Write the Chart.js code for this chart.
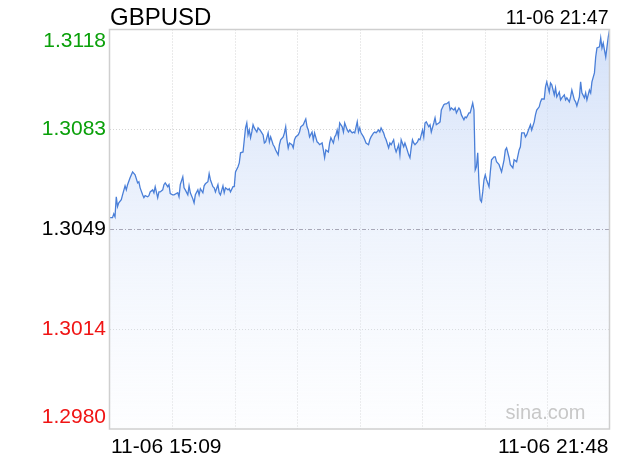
<!DOCTYPE html>
<html>
<head>
<meta charset="utf-8">
<script src="https://cdn.jsdelivr.net/npm/chart.js@4.4.1/dist/chart.umd.min.js"></script>
<style>
  html, body { margin: 0; padding: 0; background: #fff; }
  canvas { display: block; }
</style>
</head>
<body>
<canvas id="fx" width="620" height="460"></canvas>
<script>
var symbol = 'GBPUSD';
var lastTime = '11-06 21:47';
var startLabel = '11-06 15:09';
var endLabel = '11-06 21:48';
var prevClose = 1.3049;

// y ticks
var tickValues = [1.2980, 1.30145, 1.3049, 1.30835, 1.3118];
var tickLabels = ['1.2980', '1.3014', '1.3049', '1.3083', '1.3118'];

// minutes after 15:09
var minutes = [
  0, 2, 3, 4, 5, 6, 7, 9, 10, 12,
  13, 14, 16, 18, 20, 22, 23, 24, 26, 27,
  28, 30, 31, 32, 34, 35, 36, 38, 39, 40,
  42, 43, 44, 46, 47, 48, 50, 51, 54, 55,
  56, 58, 59, 60, 62, 63, 64, 66, 67, 68,
  70, 71, 72, 74, 75, 76, 78, 79, 80, 82,
  83, 84, 86, 87, 88, 90, 91, 92, 94, 95,
  96, 98, 99, 100, 102, 103, 104, 106, 107, 108,
  109, 110, 111, 112, 113, 114, 115, 117, 118, 120,
  122, 123, 124, 126, 127, 128, 130, 131, 132, 134,
  135, 136, 138, 139, 140, 141, 142, 143, 145, 146,
  147, 148, 150, 151, 152, 154, 155, 156, 157, 158,
  159, 161, 162, 163, 165, 166, 167, 169, 170, 171,
  172, 174, 175, 176, 178, 179, 180, 181, 182, 183,
  185, 186, 187, 189, 190, 191, 193, 194, 195, 197,
  198, 199, 200, 202, 203, 204, 206, 207, 208, 210,
  211, 212, 214, 215, 216, 218, 219, 220, 222, 223,
  224, 226, 227, 228, 230, 231, 232, 234, 235, 236,
  238, 239, 240, 241, 242, 243, 245, 246, 247, 249,
  250, 251, 252, 254, 255, 256, 258, 259, 260, 262,
  263, 264, 266, 267, 268, 270, 271, 272, 274, 275,
  276, 278, 279, 280, 282, 283, 284, 286, 287, 288,
  289, 290, 291, 292, 293, 294, 295, 296, 297, 298,
  299, 300, 302, 303, 304, 306, 307, 308, 310, 312,
  314, 315, 316, 318, 319, 321, 322, 324, 326, 327,
  328, 330, 331, 332, 334, 335, 336, 338, 339, 340,
  342, 343, 344, 346, 347, 348, 350, 351, 352, 354,
  355, 356, 358, 359, 360, 362, 363, 364, 366, 367,
  368, 370, 371, 372, 374, 375, 376, 378, 379, 380,
  382, 383, 384, 386, 387, 388, 390, 391, 392, 393,
  394, 395, 396, 397, 398
];

var prices = [
  1.30530, 1.30530, 1.30543, 1.30533, 1.30602, 1.30568, 1.30581, 1.30592, 1.30609, 1.30640,
  1.30626, 1.30644, 1.30668, 1.30688, 1.30678, 1.30650, 1.30654, 1.30633, 1.30609, 1.30599,
  1.30606, 1.30602, 1.30606, 1.30619, 1.30626, 1.30616, 1.30637, 1.30599, 1.30619, 1.30619,
  1.30626, 1.30644, 1.30650, 1.30637, 1.30644, 1.30613, 1.30609, 1.30609, 1.30616, 1.30602,
  1.30644, 1.30671, 1.30633, 1.30626, 1.30609, 1.30640, 1.30616, 1.30595, 1.30581, 1.30609,
  1.30626, 1.30609, 1.30630, 1.30616, 1.30640, 1.30647, 1.30654, 1.30682, 1.30661, 1.30637,
  1.30633, 1.30619, 1.30644, 1.30616, 1.30609, 1.30640, 1.30616, 1.30633, 1.30626, 1.30630,
  1.30619, 1.30637, 1.30637, 1.30688, 1.30706, 1.30719, 1.30754, 1.30757, 1.30799, 1.30840,
  1.30857, 1.30816, 1.30833, 1.30806, 1.30826, 1.30851, 1.30840, 1.30826, 1.30840, 1.30830,
  1.30816, 1.30788, 1.30792, 1.30823, 1.30792, 1.30809, 1.30782, 1.30775, 1.30764, 1.30747,
  1.30782, 1.30799, 1.30809, 1.30823, 1.30844, 1.30799, 1.30771, 1.30788, 1.30782, 1.30771,
  1.30799, 1.30809, 1.30816, 1.30826, 1.30844, 1.30851, 1.30861, 1.30871, 1.30844, 1.30833,
  1.30809, 1.30826, 1.30799, 1.30823, 1.30792, 1.30788, 1.30782, 1.30788, 1.30764, 1.30737,
  1.30764, 1.30757, 1.30788, 1.30806, 1.30788, 1.30809, 1.30816, 1.30833, 1.30809, 1.30857,
  1.30844, 1.30826, 1.30857, 1.30833, 1.30826, 1.30833, 1.30823, 1.30826, 1.30823, 1.30861,
  1.30826, 1.30840, 1.30823, 1.30809, 1.30799, 1.30788, 1.30782, 1.30799, 1.30809, 1.30823,
  1.30826, 1.30823, 1.30833, 1.30826, 1.30840, 1.30823, 1.30809, 1.30799, 1.30771, 1.30788,
  1.30782, 1.30799, 1.30771, 1.30757, 1.30782, 1.30747, 1.30799, 1.30775, 1.30788, 1.30775,
  1.30747, 1.30737, 1.30771, 1.30799, 1.30788, 1.30782, 1.30792, 1.30802, 1.30799, 1.30833,
  1.30809, 1.30857, 1.30861, 1.30844, 1.30851, 1.30826, 1.30857, 1.30875, 1.30851, 1.30857,
  1.30861, 1.30902, 1.30920, 1.30923, 1.30923, 1.30930, 1.30902, 1.30909, 1.30902, 1.30909,
  1.30892, 1.30909, 1.30902, 1.30885, 1.30868, 1.30878, 1.30875, 1.30892, 1.30892, 1.30909,
  1.30926, 1.30902, 1.30695, 1.30706, 1.30754, 1.30650, 1.30592, 1.30585, 1.30619, 1.30661,
  1.30678, 1.30661, 1.30637, 1.30685, 1.30730, 1.30740, 1.30740, 1.30723, 1.30713, 1.30688,
  1.30730, 1.30764, 1.30771, 1.30737, 1.30713, 1.30702, 1.30730, 1.30723, 1.30764, 1.30775,
  1.30823, 1.30823, 1.30809, 1.30816, 1.30840, 1.30851, 1.30833, 1.30861, 1.30885, 1.30902,
  1.30913, 1.30930, 1.30940, 1.30940, 1.30982, 1.30999, 1.30964, 1.30995, 1.30989, 1.30954,
  1.30978, 1.30947, 1.30964, 1.30937, 1.30944, 1.30954, 1.30937, 1.30944, 1.30930, 1.30947,
  1.30971, 1.30937, 1.30930, 1.30916, 1.30947, 1.30999, 1.30961, 1.30944, 1.30961, 1.30937,
  1.30971, 1.30961, 1.30999, 1.31030, 1.31085, 1.31116, 1.31120, 1.31151, 1.31116, 1.31133,
  1.31109, 1.31085, 1.31120, 1.31154, 1.31178
];

var xDivisions = 8;
var fontFam = '"Liberation Sans", Arial, Helvetica, sans-serif';

var puntos = [];
for (var i = 0; i < minutes.length; i++) {
  puntos.push({ x: minutes[i], y: prices[i] });
}

function colorFor(v) {
  if (Math.abs(v - prevClose) < 1e-7) return '#000000';
  return v > prevClose ? '#0aa00a' : '#f01414';
}

// grid, frame and prev-close line
var gridPlugin = {
  id: 'grid',
  beforeDatasetsDraw: function (chart) {
    var c = chart.ctx, a = chart.chartArea;
    var xs = chart.scales.x, ys = chart.scales.y;
    c.save();
    c.lineWidth = 1;
    c.strokeStyle = '#d4d4d4';
    c.setLineDash([1, 2]);
    var step = (xs.max - xs.min) / xDivisions;
    for (var k = 1; k < xDivisions; k++) {
      var px = Math.round(xs.getPixelForValue(xs.min + k * step)) + 0.5;
      c.beginPath(); c.moveTo(px, a.top); c.lineTo(px, a.bottom); c.stroke();
    }
    tickValues.forEach(function (v) {
      if (v === prevClose || v === ys.min || v === ys.max) return;
      var py = Math.round(ys.getPixelForValue(v)) + 0.5;
      c.beginPath(); c.moveTo(a.left, py); c.lineTo(a.right, py); c.stroke();
    });
    c.restore();
  },
  afterDatasetsDraw: function (chart) {
    var c = chart.ctx, a = chart.chartArea, ys = chart.scales.y;
    c.save();
    c.lineWidth = 1;
    c.strokeStyle = '#a8a8b8';
    c.setLineDash([4, 2, 1, 2]);
    var py = Math.round(ys.getPixelForValue(prevClose)) + 0.5;
    c.beginPath(); c.moveTo(a.left, py); c.lineTo(a.right, py); c.stroke();
    c.setLineDash([]);
    c.strokeStyle = '#cfcfcf';
    c.lineWidth = 1.5;
    c.strokeRect(a.left - 0.5, a.top, a.right - a.left + 0.5, a.bottom - a.top);
    c.restore();
  },
  afterDraw: function (chart) {
    var c = chart.ctx, a = chart.chartArea, ys = chart.scales.y;
    c.save();
    // y labels
    c.font = '21px ' + fontFam;
    c.textAlign = 'right';
    c.textBaseline = 'alphabetic';
    tickValues.forEach(function (v, idx) {
      var py = ys.getPixelForValue(v);
      var by = py + 6;
      if (v === ys.max) by = py + 17;
      if (v === ys.min) by = py - 6;
      c.fillStyle = colorFor(v);
      c.fillText(tickLabels[idx], a.left - 4, by);
    });
    // title and times
    c.fillStyle = '#000';
    c.textAlign = 'left';
    c.font = '24px ' + fontFam;
    c.fillText(symbol, a.left, 25);
    c.textAlign = 'right';
    c.font = '19.5px ' + fontFam;
    c.fillText(lastTime, a.right - 1, 24);
    c.font = '21px ' + fontFam;
    c.textAlign = 'left';
    c.fillText(startLabel, a.left + 1, 453);
    c.textAlign = 'right';
    c.fillText(endLabel, a.right - 1, 453);
    // watermark
    c.fillStyle = '#c8c8c8';
    c.font = '20px ' + fontFam;
    c.fillText('sina.com', a.right - 24, 419);
    c.restore();
  }
};

var ctx = document.getElementById('fx').getContext('2d');
var grafica = new Chart(ctx, {
  type: 'line',
  data: {
    datasets: [{
      label: symbol,
      data: puntos,
      borderColor: '#4a7fd8',
      borderWidth: 1.3,
      pointRadius: 0,
      tension: 0,
      fill: 'start',
      backgroundColor: function (context) {
        var a = context.chart.chartArea;
        if (!a) return 'rgba(210,225,248,0.6)';
        var g = context.chart.ctx.createLinearGradient(0, a.top, 0, a.bottom);
        g.addColorStop(0, 'rgba(196,214,246,0.75)');
        g.addColorStop(1, 'rgba(240,245,254,0.15)');
        return g;
      }
    }]
  },
  options: {
    responsive: false,
    animation: false,
    layout: { padding: { left: 110, top: 29.5, right: 10.5, bottom: 31 } },
    plugins: { legend: { display: false }, tooltip: { enabled: false } },
    scales: {
      x: { type: 'linear', display: false, min: 0, max: 398 },
      y: { type: 'linear', display: false, min: 1.2980, max: 1.3118 }
    }
  },
  plugins: [gridPlugin]
});
</script>
</body>
</html>
